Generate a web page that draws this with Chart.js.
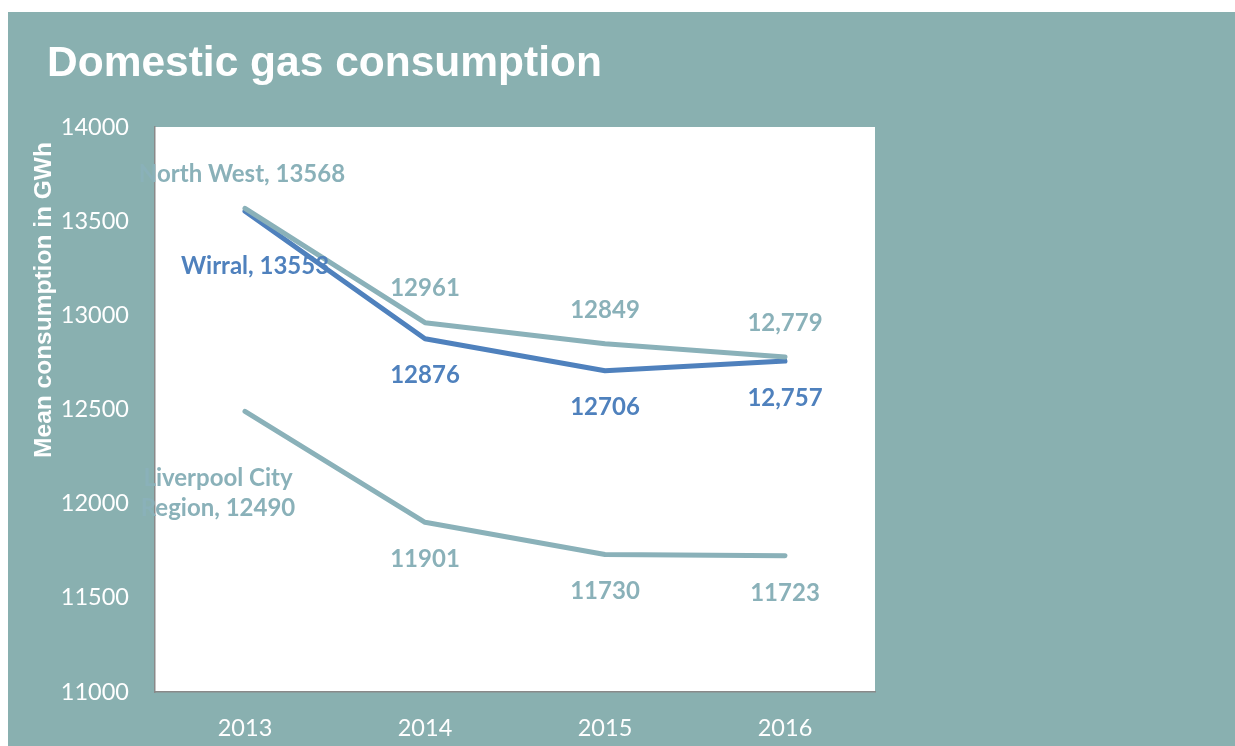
<!DOCTYPE html>
<html>
<head>
<meta charset="utf-8">
<title>Domestic gas consumption</title>
<script src="https://cdn.jsdelivr.net/npm/chart.js@4.4.0/dist/chart.umd.min.js"></script>
<style>
    html, body { margin: 0; padding: 0; background: #ffffff; overflow: hidden; }
    #chart { display: block; }
</style>
</head>
<body>
<canvas id="chart" width="1235" height="746"></canvas>
<script>
// Domestic gas consumption - mean consumption in GWh

var years = ['2013', '2014', '2015', '2016'];
var northWest = [13568, 12961, 12849, 12779];
var wirral = [13553, 12876, 12706, 12757];
var liverpoolCityRegion = [12490, 11901, 11730, 11723];
var seriesNames = ['North West', 'Wirral', 'Liverpool City Region'];
var yMin = 11000, yMax = 14000, yStep = 500;

var bgTeal = '#89b0b0';
var lineTeal = '#8ab1b9';
var lineBlue = '#4f81bd';

// label placement per series (relative to the point)
var labelPlacement = [
    { dy: -34, first: { dx: -3, dy: -34, lines: ['North West, 13568'] }, commaLast: true },
    { dy: 37, first: { dx: 10, dy: 55, lines: ['Wirral, 13553'] }, commaLast: true },
    { dy: 37, first: { dx: -27, dy: 67, lineGap: 30, lines: ['Liverpool City', 'Region, 12490'] }, commaLast: false }
];

function withComma(v) {
    return String(v).replace(/\B(?=(\d{3})+(?!\d))/g, ',');
}

var backgroundPlugin = {
    id: 'backgroundPlugin',
    beforeDraw: function (chart) {
        var ctx = chart.ctx, a = chart.chartArea;
        ctx.save();
        ctx.fillStyle = '#ffffff';
        ctx.fillRect(0, 0, chart.width, chart.height);
        ctx.fillStyle = bgTeal;
        ctx.fillRect(8, 12, chart.width - 8, chart.height - 12);
        ctx.fillStyle = '#ffffff';
        ctx.fillRect(a.left, a.top, a.right - a.left, a.bottom - a.top);
        ctx.restore();
    },
    afterDraw: function (chart) {
        var ctx = chart.ctx;
        ctx.save();
        // title
        ctx.fillStyle = '#ffffff';
        ctx.font = 'bold 42.5px "Liberation Sans", Arial, sans-serif';
        ctx.textAlign = 'left';
        ctx.textBaseline = 'alphabetic';
        ctx.fillText('Domestic gas consumption', 47, 76);
        // y axis title
        ctx.translate(44, 300);
        ctx.rotate(-Math.PI / 2);
        ctx.font = 'bold 24.5px "Liberation Sans", Arial, sans-serif';
        ctx.textAlign = 'center';
        ctx.textBaseline = 'middle';
        ctx.fillText('Mean consumption in GWh', 0, 0);
        ctx.restore();
    }
};

var dataLabelPlugin = {
    id: 'dataLabelPlugin',
    afterDatasetsDraw: function (chart) {
        var ctx = chart.ctx;
        ctx.save();
        ctx.font = 'bold 24px Lato, "Open Sans", sans-serif';
        ctx.textAlign = 'center';
        ctx.textBaseline = 'middle';
        chart.data.datasets.forEach(function (ds, i) {
            var meta = chart.getDatasetMeta(i);
            var place = labelPlacement[i];
            ctx.fillStyle = ds.borderColor;
            meta.data.forEach(function (pt, j) {
                if (j === 0) {
                    var f = place.first;
                    f.lines.forEach(function (txt, k) {
                        ctx.fillText(txt, pt.x + f.dx, pt.y + f.dy + k * (f.lineGap || 0));
                    });
                    return;
                }
                var v = ds.data[j];
                var txt = (j === ds.data.length - 1 && place.commaLast) ? withComma(v) : String(v);
                ctx.fillText(txt, pt.x, pt.y + place.dy);
            });
        });
        ctx.restore();
    }
};

function lineDataset(label, data, color) {
    return {
        label: label,
        data: data,
        borderColor: color,
        backgroundColor: color,
        borderWidth: 5,
        borderCapStyle: 'round',
        borderJoinStyle: 'round',
        pointRadius: 0,
        pointHoverRadius: 0,
        tension: 0,
        fill: false
    };
}

var tickFont = { family: 'Lato, "Open Sans", sans-serif', size: 23.5 };

new Chart(document.getElementById('chart').getContext('2d'), {
    type: 'line',
    data: {
        labels: years,
        datasets: [
            lineDataset(seriesNames[0], northWest, lineTeal),
            lineDataset(seriesNames[1], wirral, lineBlue),
            lineDataset(seriesNames[2], liverpoolCityRegion, lineTeal)
        ]
    },
    options: {
        responsive: false,
        animation: false,
        devicePixelRatio: 1,
        layout: { padding: { top: 127, right: 360, left: 0, bottom: 0 } },
        plugins: {
            legend: { display: false },
            title: { display: false },
            tooltip: { enabled: false }
        },
        scales: {
            x: {
                offset: true,
                grid: { display: false, drawTicks: false },
                border: { display: true, color: '#898989', width: 1.5 },
                ticks: { color: '#ffffff', font: tickFont, padding: 22, maxRotation: 0 },
                afterFit: function (s) { s.height = 54; }
            },
            y: {
                min: yMin,
                max: yMax,
                grid: { display: false, drawTicks: false },
                border: { display: true, color: '#898989', width: 1.5 },
                ticks: {
                    stepSize: yStep,
                    color: '#ffffff',
                    font: tickFont,
                    padding: 26,
                    callback: function (v) { return String(v); }
                },
                afterFit: function (s) { s.width = 155; }
            }
        }
    },
    plugins: [backgroundPlugin, dataLabelPlugin]
});
</script>
</body>
</html>
